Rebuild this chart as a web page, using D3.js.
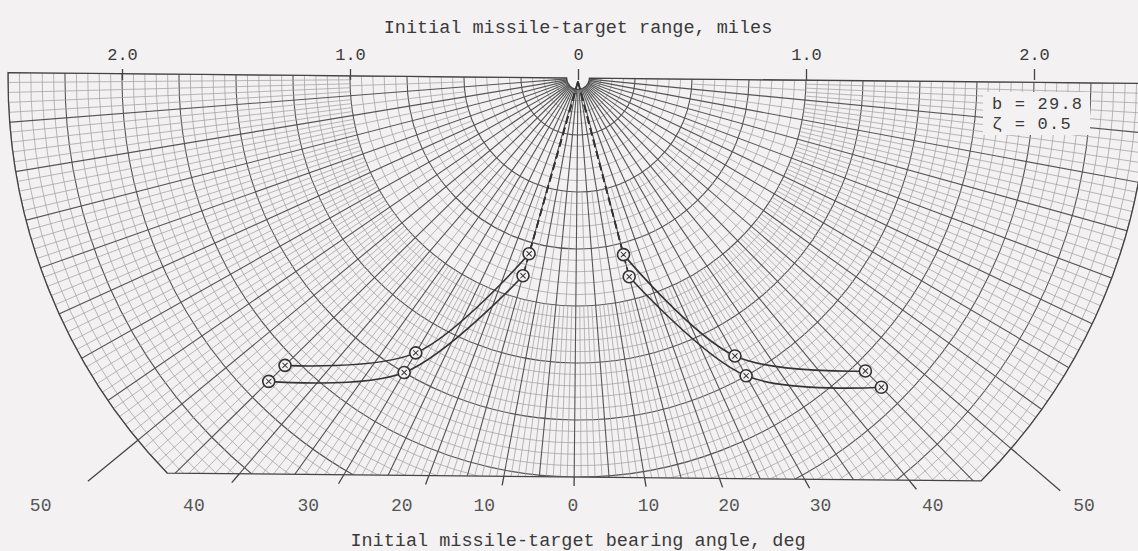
<!DOCTYPE html>
<html>
<head>
<meta charset="utf-8">
<script src="https://cdn.jsdelivr.net/npm/d3@7"></script>
<style>
  html, body { margin: 0; padding: 0; background: #f3f1f2; }
  svg { display: block; }
  text { font-family: "Liberation Mono", "DejaVu Sans Mono", monospace; fill: #3a3a3a; }
</style>
</head>
<body>
<div id="chart"></div>
<script>
// Range ticks along the top, miles (left of the origin is negative)
const rangeTicks = [-2, -1, 0, 1, 2];
// Bearing ticks along the bottom, deg (left is negative)
const bearingTicks = [-50, -40, -30, -20, -10, 0, 10, 20, 30, 40, 50];
// Computed boundary points: bearing (deg) and initial range (miles)
const pointBearings = [15, 30, 45];
const rangeNear = [0.8, 1.4, 1.8];
const rangeFar = [0.9, 1.5, 1.9];
const paramLines = ['b = 29.8', 'ζ = 0.5'];

const width = 1138;
const height = 551;
const origin = { x: 578, y: 78 };
const maxRange = 2.5;
const bottomRange = 1.75;
const tilt = 0.55; // the scanned sheet is turned a little

const light = '#a3a2a3';
const heavy = '#555';
const ink = '#333';

const svg = d3
  .select('#chart')
  .append('svg')
  .attr('width', width)
  .attr('height', height);

// Scales: miles -> px, bearing -> radial angle (0 deg bearing points down)
const r = d3.scaleLinear().domain([0, maxRange]).range([0, 570]);
const ang = d3
  .scaleLinear()
  .domain([-90, 90])
  .range([1.5 * Math.PI, 0.5 * Math.PI]);
const pt = (b, m) => d3.pointRadial(ang(b), r(m));

const R = r(maxRange);
const Yb = r(bottomRange);
const r0 = r(0.05);
const phi = Math.asin(Yb / R);

function outline() {
  const p = d3.path();
  p.moveTo(-R, 0);
  p.lineTo(-r0, 0);
  p.arc(0, 0, r0, Math.PI, 0, true);
  p.lineTo(R, 0);
  p.arc(0, 0, R, 0, phi);
  p.lineTo(-R * Math.cos(phi), Yb);
  p.arc(0, 0, R, Math.PI - phi, Math.PI);
  p.closePath();
  return p.toString();
}

svg
  .append('defs')
  .append('clipPath')
  .attr('id', 'grid-clip')
  .append('path')
  .attr('d', outline());

const g = svg
  .append('g')
  .attr('transform', `translate(${origin.x},${origin.y}) rotate(${tilt})`);

const grid = g.append('g').attr('clip-path', 'url(#grid-clip)');

// Arcs every 0.05 mile, heavier every 0.25
const arcs = d3.range(1, 51);
grid
  .selectAll('path.arc')
  .data(arcs)
  .join('path')
  .attr('class', 'arc')
  .attr('d', (k) => {
    const p = d3.path();
    p.arc(0, 0, r(k * 0.05), 0, Math.PI);
    return p.toString();
  })
  .attr('fill', 'none')
  .attr('stroke', (k) => (k % 5 === 0 ? heavy : light))
  .attr('stroke-width', (k) => (k % 5 === 0 ? 1.1 : 0.75));

// Spokes: 5 deg from the centre, 2.5 deg past 0.5 mile, 1 deg past 1.0 mile
const spokes = d3
  .range(-180, 181)
  .map((i) => i / 2)
  .map((b) => {
    if (b % 5 === 0) return { b, from: 0.05, to: 3, major: true };
    if (b % 2.5 === 0) return { b, from: 0.5, to: 1.0 };
    if (Number.isInteger(b)) return { b, from: 1.0, to: 3 };
    return null;
  })
  .filter(Boolean);

grid
  .selectAll('line.spoke')
  .data(spokes)
  .join('line')
  .attr('class', 'spoke')
  .attr('x1', (d) => pt(d.b, d.from)[0])
  .attr('y1', (d) => pt(d.b, d.from)[1])
  .attr('x2', (d) => pt(d.b, d.to)[0])
  .attr('y2', (d) => pt(d.b, d.to)[1])
  .attr('stroke', (d) => (d.major ? heavy : light))
  .attr('stroke-width', (d) => (d.major ? 1.1 : 0.75));

g.append('path')
  .attr('d', outline())
  .attr('fill', 'none')
  .attr('stroke', '#444')
  .attr('stroke-width', 1.3);

// Bearing ticks: each 10 deg spoke runs a little past the sheet edge
const rad = (b) => (b * Math.PI) / 180;
g.selectAll('line.btick')
  .data(bearingTicks)
  .join('line')
  .attr('class', 'btick')
  .attr('x1', (b) => Math.min(R, Yb / Math.cos(rad(b))) * Math.sin(rad(b)))
  .attr('y1', (b) => Math.min(R, Yb / Math.cos(rad(b))) * Math.cos(rad(b)))
  .attr('x2', (b) => (Yb + 9) * Math.tan(rad(b)))
  .attr('y2', Yb + 9)
  .attr('stroke', '#444')
  .attr('stroke-width', 1.3);

// Bearing labels sit in one level row, along the turned spokes
const t = rad(tilt);
const labelX = (b) => {
  const yl = Yb + 30;
  const xl = yl * Math.tan(rad(b)) + (b < 0 ? -12 + 0.2 * b : -1);
  return origin.x + xl * Math.cos(t) - yl * Math.sin(t);
};
svg
  .selectAll('text.blabel')
  .data(bearingTicks)
  .join('text')
  .attr('class', 'blabel')
  .attr('x', labelX)
  .attr('y', origin.y + Yb + 34)
  .attr('text-anchor', 'middle')
  .attr('font-size', 18)
  .style('fill', '#555')
  .text((b) => Math.abs(b));

// Curves through the computed points, dashed back to the origin
const line = d3.line().curve(d3.curveCatmullRom.alpha(0.5));
const series = [];
[-1, 1].forEach((s) => {
  [rangeNear, rangeFar].forEach((rs) => {
    series.push(pointBearings.map((b, i) => pt(s * b, rs[i])));
  });
});

g.selectAll('path.dash')
  .data(series)
  .join('path')
  .attr('class', 'dash')
  .attr('d', (pts) => d3.line()([[0, r0 * 0.3], pts[0]]))
  .attr('fill', 'none')
  .attr('stroke', ink)
  .attr('stroke-width', 1.7)
  .attr('stroke-dasharray', '8,4');

g.selectAll('path.curve')
  .data(series)
  .join('path')
  .attr('class', 'curve')
  .attr('d', line)
  .attr('fill', 'none')
  .attr('stroke', ink)
  .attr('stroke-width', 1.6);

const marks = g
  .selectAll('g.mark')
  .data(series.flat())
  .join('g')
  .attr('class', 'mark')
  .attr('transform', (p) => `translate(${p[0]},${p[1]})`);

marks
  .append('circle')
  .attr('r', 6)
  .attr('fill', '#f3f1f2')
  .attr('stroke', ink)
  .attr('stroke-width', 1.6);

marks
  .append('path')
  .attr('d', 'M-2.6,-2.6L2.6,2.6M-2.6,2.6L2.6,-2.6')
  .attr('stroke', ink)
  .attr('stroke-width', 1);

// Top range axis
const x = d3
  .scaleLinear()
  .domain([-maxRange, maxRange])
  .range([origin.x - R, origin.x + R]);

svg
  .append('g')
  .attr('transform', `translate(0,${origin.y + 2})`)
  .call(
    d3
      .axisTop(x)
      .tickValues(rangeTicks)
      .tickSize(11)
      .tickPadding(9)
      .tickFormat((d) => (d === 0 ? '0' : d3.format('.1f')(Math.abs(d))))
  )
  .attr('font-family', null)
  .attr('font-size', null)
  .call((a) => a.select('.domain').remove())
  .call((a) => a.selectAll('.tick line').attr('stroke', '#444').attr('stroke-width', 1.3))
  .call((a) => a.selectAll('.tick text').attr('font-size', 17).style('fill', '#3a3a3a'));

// Axis titles
svg
  .append('text')
  .attr('x', origin.x)
  .attr('y', 33)
  .attr('text-anchor', 'middle')
  .attr('font-size', 18.5)
  .text('Initial missile-target range, miles');

svg
  .append('text')
  .attr('x', origin.x)
  .attr('y', 546)
  .attr('text-anchor', 'middle')
  .attr('font-size', 18.5)
  .text('Initial missile-target bearing angle, deg');

// Parameter box
svg
  .append('rect')
  .attr('x', 983)
  .attr('y', 92)
  .attr('width', 107)
  .attr('height', 43)
  .attr('fill', '#f3f1f2');

svg
  .selectAll('text.param')
  .data(paramLines)
  .join('text')
  .attr('class', 'param')
  .attr('x', 992)
  .attr('y', (d, i) => 109 + i * 20)
  .attr('font-size', 17)
  .attr('letter-spacing', 1.2)
  .text((d) => d);
</script>
</body>
</html>
